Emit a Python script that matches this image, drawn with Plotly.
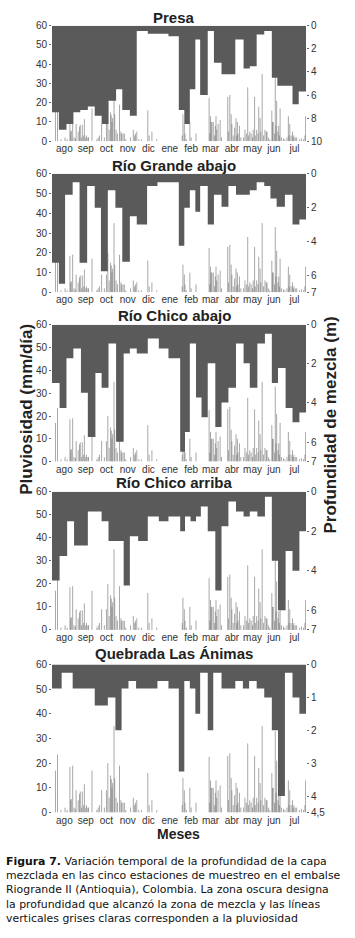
import pandas as pd
import plotly.graph_objects as go

# ---------------- data ----------------
START = "1993-07-28"
END = "1994-07-31 14:00"

month_labels = ["ago", "sep", "oct", "nov", "dic", "ene", "feb", "mar", "abr", "may", "jun", "jul"]
month_ticks = ["1993-08-15", "1993-09-15", "1993-10-15", "1993-11-15", "1993-12-15", "1994-01-15",
               "1994-02-15", "1994-03-15", "1994-04-15", "1994-05-15", "1994-06-15", "1994-07-15"]

# daily rainfall (mm/día): day offset from START, value
rain_day = [5, 8, 13, 19, 22, 26, 27, 28, 30, 32, 34, 35, 38, 40, 41, 43, 44, 46, 47, 49, 50, 52, 53, 58,
            65, 67, 69, 72, 76, 79, 81, 83, 85, 86, 87, 88, 90, 91, 93, 95, 98, 100, 101, 103, 105, 107,
            114, 118, 120, 121, 123, 126, 130, 139, 141, 145, 152,
            189, 190, 192, 193, 195, 200, 202, 209,
            228, 229, 230, 231, 232, 234, 236, 237, 238, 239, 241, 244, 246,
            255, 256, 258, 260, 261, 263, 265, 267, 268, 269, 270, 272, 274, 278, 280, 282, 284, 285, 287,
            289, 291, 292, 294, 295, 297, 299, 300, 302, 303, 305, 307, 309, 311, 312, 314, 316,
            319, 320, 321, 323, 324, 325, 326, 328, 329, 330, 331, 333, 336, 338, 341, 343, 344, 345,
            347, 349, 350, 351, 353, 355, 359, 362, 365, 367, 368]
rain_mm = [17, 23.5, 1, 2, 1, 18.5, 5, 5.5, 19, 2, 1.5, 9, 5, 7.5, 8.5, 2, 8.5, 3, 11.5, 2, 3, 2, 2, 17,
           1, 2, 3, 9, 2, 9, 20, 6, 15, 13.5, 10, 12, 35, 14, 6, 4, 19, 5, 4, 4, 4, 1,
           2, 6, 3, 4, 5, 1, 1, 16, 3, 5, 1,
           3, 14, 9, 4, 1, 10, 2, 4,
           22.5, 4, 13, 10, 10, 10, 3, 8, 13, 6, 9, 11, 2,
           23, 5, 24, 14, 9, 3, 7, 12, 3, 10, 4, 8, 2, 2, 6, 4, 28, 3, 5,
           4, 2, 6, 23, 3, 6, 4, 18, 12, 5, 35, 3, 6, 5, 5, 2, 1,
           16, 10, 10, 4, 33, 8, 21, 5, 8, 3, 17, 2, 1.5, 1, 2, 13, 3, 9,
           3, 5, 2, 3, 2, 2, 1, 1.5, 1, 3, 13]

# mixing-layer depth (m): sampling-period start (day offset) and depth
presa_day = [0, 10, 21, 31, 41, 52, 62, 72, 82, 93, 102, 113, 123, 139, 169, 184, 192, 200, 208, 215,
             226, 235, 246, 266, 278, 287, 297, 308, 319, 327, 349, 358]
presa_depth = [7.5, 9.0, 8.5, 7.5, 7.3, 7.0, 7.8, 8.5, 6.5, 5.5, 7.3, 7.8, 0.45, 0.7, 0.9, 7.3, 8.5, 5.5,
               1.2, 6.0, 0.45, 3.2, 4.2, 1.2, 3.7, 3.5, 0.75, 0.45, 4.5, 5.2, 6.8, 5.7]

rga_day = [0, 10, 19, 30, 40, 51, 62, 71, 81, 92, 102, 113, 123, 138, 153, 184, 192, 200, 208, 215,
           226, 235, 246, 256, 267, 287, 297, 308, 317, 326, 338, 349, 359]
rga_depth = [5.25, 6.5, 1.23, 0.5, 5.25, 0.72, 2.0, 5.75, 0.97, 2.0, 5.2, 2.5, 3.0, 0.72, 0.5, 4.25, 2.0,
             0.97, 2.24, 0.72, 3.0, 1.23, 1.95, 0.72, 1.23, 0.97, 0.5, 0.72, 1.46, 1.95, 1.23, 3.0, 2.7]

rcab_day = [0, 11, 21, 31, 42, 52, 63, 72, 82, 93, 104, 113, 123, 139, 155, 169, 186, 193, 200, 209,
            217, 226, 237, 246, 256, 267, 278, 287, 298, 309, 319, 328, 339, 349, 359]
rcab_depth = [2.97, 4.26, 1.71, 1.21, 3.47, 5.74, 2.47, 3.22, 0.96, 5.99, 1.46, 1.21, 1.46, 0.70, 1.21,
              1.71, 6.49, 5.49, 0.96, 3.72, 4.73, 1.96, 5.23, 3.98, 3.22, 0.96, 1.96, 3.22, 0.96, 0.45,
              2.97, 2.21, 4.26, 4.98, 4.48]

rcar_day = [0, 11, 22, 32, 52, 72, 82, 104, 113, 125, 139, 155, 169, 186, 193, 201, 209, 216, 226, 237,
            246, 256, 267, 278, 287, 298, 309, 319, 328, 339, 349, 359]
rcar_depth = [4.5, 3.25, 1.5, 2.72, 1.0, 1.5, 2.5, 4.75, 2.25, 2.5, 1.25, 1.5, 1.25, 2.0, 1.25, 1.5, 1.25,
              0.75, 2.0, 5.0, 1.75, 0.5, 1.0, 1.25, 1.0, 1.25, 0.25, 3.5, 6.0, 3.0, 4.0, 2.0]

qla_day = [0, 14, 30, 62, 81, 92, 101, 111, 122, 153, 169, 184, 192, 200, 208, 215, 226, 234, 246, 266,
           277, 286, 297, 308, 319, 328, 338, 349, 359]
qla_depth = [0.73, 0.25, 0.73, 1.25, 1.0, 2.0, 0.73, 0.5, 0.73, 0.5, 0.73, 3.25, 0.5, 0.73, 1.5, 0.25,
             2.0, 0.25, 0.73, 0.5, 0.73, 0.5, 0.73, 1.0, 2.0, 4.0, 0.25, 1.0, 1.5]

panel_titles = ["Presa", "Río Grande abajo", "Río Chico abajo", "Río Chico arriba", "Quebrada Las Ánimas"]
depth_max = [10, 7, 7, 7, 4.5]
depth_ticks = [[0, 2, 4, 6, 8, 10], [0, 2, 4, 6, 7], [0, 2, 4, 6, 7], [0, 2, 4, 6, 7], [0, 1, 2, 3, 4, 4.5]]
depth_ticktext = [["0", "2", "4", "6", "8", "10"], ["0", "2", "4", "6", "7"], ["0", "2", "4", "6", "7"],
                  ["0", "2", "4", "6", "7"], ["0", "1", "2", "3", "4", "4,5"]]
rain_ticks = [0, 10, 20, 30, 40, 50, 60]
depth_series = [(presa_day, presa_depth), (rga_day, rga_depth), (rcab_day, rcab_depth),
                (rcar_day, rcar_depth), (qla_day, qla_depth)]

caption_lines = [
    "<b>Figura 7.</b> Variación temporal de la profundidad de la capa",
    "mezclada en las cinco estaciones de muestreo en el embalse",
    "Riogrande II (Antioquia), Colombia. La zona oscura designa",
    "la profundidad que alcanzó la zona de mezcla y las líneas",
    "verticales grises claras corresponden a la pluviosidad",
]

# ---------------- layout geometry ----------------
W, H = 355, 938
X0, X1 = 52, 306
panel_px = [(20, 137), (170, 290), (323, 461.5), (492, 632), (667, 817)]
title_py = [12, 162, 314, 483, 656]

base = pd.Timestamp(START)
DARK = "#5a5a5a"
TXT = "#333333"
FONT = "Liberation Sans, Arial, sans-serif"

fig = go.Figure()
layout = dict(width=W, height=H, margin=dict(l=0, r=0, t=0, b=0),
              paper_bgcolor="white", plot_bgcolor="white", showlegend=False,
              font=dict(family=FONT, size=10, color=TXT))

rx, ry = [], []
for d, v in zip(rain_day, rain_mm):
    t = base + pd.Timedelta(days=d)
    rx += [t, t, None]
    ry += [0, v, None]

annotations = []
for i in range(5):
    k = i + 1
    xa = "x" if k == 1 else f"x{k}"
    ya1 = f"y{2*k-1}" if k > 1 else "y"
    ya2 = f"y{2*k}"
    top, bot = panel_px[i]
    dom = [1 - bot / H, 1 - top / H]

    fig.add_trace(go.Scatter(x=rx, y=ry, mode="lines", xaxis=xa, yaxis=ya1,
                             line=dict(color="rgba(110,110,110,0.6)", width=1), hoverinfo="skip"))
    days, dep = depth_series[i]
    sx = [base + pd.Timedelta(days=d) for d in days] + [pd.Timestamp(END)]
    sy = list(dep) + [dep[-1]]
    fig.add_trace(go.Scatter(x=sx, y=sy, mode="lines", line=dict(width=0, shape="hv", color=DARK),
                             fill="tozeroy", fillcolor=DARK, xaxis=xa, yaxis=ya2, hoverinfo="skip"))

    xname = "xaxis" if k == 1 else f"xaxis{k}"
    y1name = "yaxis" if k == 1 else f"yaxis{2*k-1}"
    y2name = f"yaxis{2*k}"
    layout[xname] = dict(domain=[X0 / W, X1 / W], anchor=ya1, type="date",
                         range=[START, END], tickmode="array", tickvals=month_ticks, ticktext=month_labels,
                         showgrid=False, zeroline=False, showline=False, ticks="",
                         tickfont=dict(size=10, color=TXT), ticklen=0)
    layout[y1name] = dict(domain=dom, anchor=xa, range=[0, 60], tickvals=rain_ticks,
                          showgrid=False, zeroline=False, showline=False, ticks="outside", ticklen=2,
                          tickcolor="#666", tickfont=dict(size=10, color=TXT))
    layout[y2name] = dict(domain=dom, anchor=xa, overlaying=ya1, side="right",
                          range=[depth_max[i], 0], tickvals=depth_ticks[i], ticktext=depth_ticktext[i],
                          showgrid=False, zeroline=False, showline=False, ticks="outside", ticklen=2,
                          tickcolor="#666", tickfont=dict(size=10, color=TXT))
    annotations.append(dict(text=f"<b>{panel_titles[i]}</b>", x=174 / W, y=1 - title_py[i] / H,
                            xref="paper", yref="paper", xanchor="center", yanchor="middle",
                            showarrow=False, font=dict(size=15, color="#222", family=FONT)))

annotations += [
    dict(text="<b>Pluviosidad (mm/día)</b>", x=27 / W, y=1 - 409 / H, xref="paper", yref="paper",
         textangle=-90, showarrow=False, xanchor="center", yanchor="middle",
         font=dict(size=17, color="#222", family=FONT)),
    dict(text="<b>Profundidad de mezcla (m)</b>", x=331 / W, y=1 - 425 / H, xref="paper", yref="paper",
         textangle=-90, showarrow=False, xanchor="center", yanchor="middle",
         font=dict(size=17, color="#222", family=FONT)),
    dict(text="<b>Meses</b>", x=178 / W, y=1 - 839 / H, xref="paper", yref="paper", showarrow=False,
         xanchor="center", yanchor="middle", font=dict(size=14, color="#222", family=FONT)),
    dict(text="<br>".join(caption_lines), x=4 / W, y=1 - 858 / H,
         xref="paper", yref="paper", showarrow=False, align="left",
         xanchor="left", yanchor="top",
         font=dict(size=10.9, color="#111", family="DejaVu Sans, sans-serif")),
]
layout["annotations"] = annotations
fig.update_layout(**layout)
fig.write_html("out.html", config={"displayModeBar": False},
               post_script="document.body.style.margin='0';document.body.style.overflow='hidden';")
